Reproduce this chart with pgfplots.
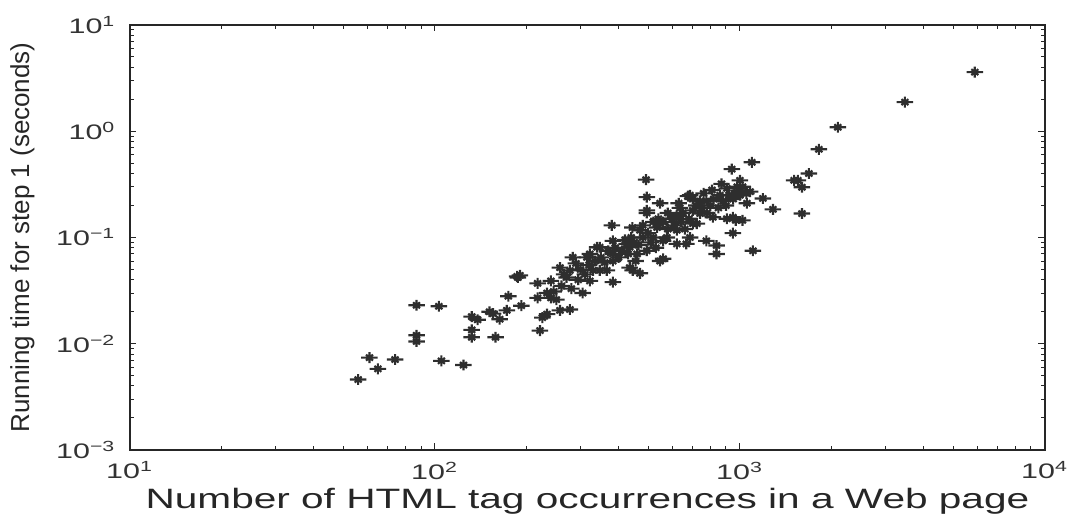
\documentclass[border=0pt]{standalone}
\usepackage{graphicx}
\usepackage{fontspec}
\setmainfont{Liberation Sans}
\usepackage{pgfplots}
\pgfplotsset{compat=1.18}

% MATLAB-like '*' marker: plus plus short cross, a bit wider than tall
\pgfdeclareplotmark{mstar}{%
  \pgfpathmoveto{\pgfpoint{-\pgfplotmarksize}{0pt}}%
  \pgfpathlineto{\pgfpoint{\pgfplotmarksize}{0pt}}%
  \pgfpathmoveto{\pgfpoint{0pt}{-0.66*\pgfplotmarksize}}%
  \pgfpathlineto{\pgfpoint{0pt}{0.66*\pgfplotmarksize}}%
  \pgfpathmoveto{\pgfpoint{-0.42*\pgfplotmarksize}{-0.36*\pgfplotmarksize}}%
  \pgfpathlineto{\pgfpoint{0.42*\pgfplotmarksize}{0.36*\pgfplotmarksize}}%
  \pgfpathmoveto{\pgfpoint{-0.42*\pgfplotmarksize}{0.36*\pgfplotmarksize}}%
  \pgfpathlineto{\pgfpoint{0.42*\pgfplotmarksize}{-0.36*\pgfplotmarksize}}%
  \pgfusepathqstroke}

\newcommand{\wide}[1]{\scalebox{1.45}[1]{#1}}

\pgfplotstableread{
x y
56 0.0046
61 0.0074
65 0.0058
74 0.0071
87 0.0120
87 0.0105
87 0.0230
103 0.0225
105 0.0069
124 0.0063
132 0.0180
132 0.0135
132 0.0115
138 0.0168
151 0.0200
155 0.0192
158 0.0115
163 0.0170
172 0.0206
174 0.0280
186 0.0430
190 0.0440
187 0.0420
192 0.0228
217 0.0370
217 0.0270
221 0.0133
225 0.0176
233 0.0300
233 0.0190
240 0.0270
240 0.0390
245 0.0310
250 0.0260
257 0.0520
257 0.0206
260 0.0350
265 0.0450
270 0.0420
277 0.0490
277 0.0210
280 0.0330
283 0.0650
290 0.0570
295 0.0400
300 0.0500
305 0.0300
310 0.0450
315 0.0650
320 0.0550
322 0.0700
322 0.0390
330 0.0490
335 0.0600
340 0.0810
347 0.0810
347 0.0490
350 0.0650
360 0.0580
366 0.0490
370 0.0750
380 0.1300
383 0.0930
383 0.0700
383 0.0380
383 0.0600
390 0.0800
400 0.0650
410 0.0750
420 0.0950
425 0.0870
430 0.0700
435 0.0810
435 0.0520
440 0.1000
444 0.1240
445 0.0490
450 0.0900
455 0.0600
460 0.0700
465 0.0850
470 0.1170
470 0.0460
480 0.1000
480 0.1300
492 0.3500
495 0.2400
495 0.1800
495 0.1700
495 0.0750
500 0.1100
510 0.0900
520 0.1000
520 0.1400
530 0.0800
535 0.1240
540 0.1500
547 0.2100
547 0.1350
547 0.0600
560 0.0930
560 0.0630
560 0.1400
576 0.1000
580 0.1200
580 0.1700
600 0.1500
610 0.1300
620 0.1600
621 0.0870
621 0.1170
630 0.2100
635 0.1900
640 0.1400
650 0.1700
660 0.1200
667 0.0870
675 0.2450
680 0.1500
686 0.2500
686 0.1000
700 0.1800
700 0.2300
701 0.1350
720 0.2000
722 0.1350
740 0.2200
740 0.1680
750 0.1900
760 0.2600
776 0.0930
776 0.2200
780 0.1700
800 0.2000
810 0.2800
815 0.1550
820 0.2300
838 0.0840
838 0.0700
850 0.1900
860 0.2500
870 0.3200
880 0.2200
900 0.2000
906 0.2900
906 0.1500
920 0.2500
940 0.4400
948 0.1100
948 0.1550
950 0.2300
960 0.2600
969 0.1450
980 0.3000
1000 0.3450
1000 0.2770
1000 0.2500
1019 0.1450
1020 0.3000
1050 0.2600
1054 0.2100
1080 0.2700
1094 0.5100
1103 0.0750
1189 0.2330
1283 0.1840
1505 0.3450
1549 0.3450
1597 0.2970
1597 0.1680
1683 0.4000
1815 0.6760
2094 1.0900
3475 1.8800
5890 3.6000
}\runtime

\begin{document}
\begin{tikzpicture}
\begin{axis}[
  xmode=log, ymode=log,
  scale only axis, width=366pt, height=170pt,
  xmin=10, xmax=10000, ymin=0.001, ymax=10,
  axis line style={black!85, line width=0.5pt},
  tick style={black!85, line width=0.4pt},
  tick align=inside,
  major tick length=2.6pt, minor tick length=1.5pt,
  xtick={10,100,1000,10000},
  xticklabels={\wide{10\textsuperscript{1}},\wide{10\textsuperscript{2}},\wide{10\textsuperscript{3}},\wide{10\textsuperscript{4}}},
  ytick={0.001,0.01,0.1,1,10},
  yticklabels={\wide{10\textsuperscript{−3}},\wide{10\textsuperscript{−2}},\wide{10\textsuperscript{−1}},\wide{10\textsuperscript{0}},\wide{10\textsuperscript{1}}},
  tick label style={font=\fontsize{8.4}{9}\selectfont, text=black!80},
  xticklabel style={yshift=-1.2pt},
  yticklabel style={xshift=-2pt},
  xlabel={\wide{Number of HTML tag occurrences in a Web page}},
  ylabel={Running time for step 1 (seconds)},
  x label style={font=\fontsize{11.2}{12}\selectfont, text=black!85,
    at={(axis description cs:0.5,0)}, anchor=base, yshift=-23.6pt},
  y label style={font=\fontsize{10.4}{12}\selectfont, text=black!85,
    at={(axis description cs:0,0.5)}, anchor=center, yshift=43pt},
]
\addplot[only marks, mark=mstar, mark size=3.3pt,
  mark options={line width=0.85pt, draw=black!82}] table[x=x,y=y] {\runtime};
\end{axis}
\path[use as bounding box] ([xshift=-52pt,yshift=-28pt]current axis.south west)
  rectangle ([xshift=12.8pt,yshift=10pt]current axis.north east);
\end{tikzpicture}
\end{document}
